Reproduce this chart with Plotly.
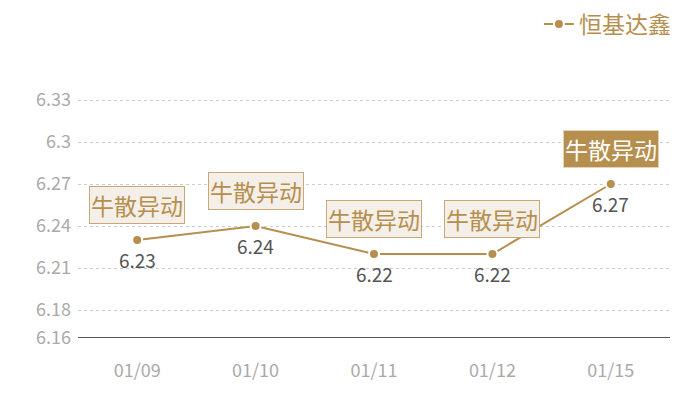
import plotly.graph_objects as go

# chart data
dates = ["01/09", "01/10", "01/11", "01/12", "01/15"]
prices = [6.23, 6.24, 6.22, 6.22, 6.27]
tick_vals = [6.16, 6.18, 6.21, 6.24, 6.27, 6.30, 6.33]
tick_text = ["6.16", "6.18", "6.21", "6.24", "6.27", "6.3", "6.33"]
series_name = "恒基达鑫"
event_label = "牛散异动"

gold = "#b68f4e"
font_cjk = "Noto Sans CJK SC"

fig = go.Figure()
fig.add_trace(
    go.Scatter(
        x=dates,
        y=prices,
        name=series_name,
        mode="lines+markers",
        line=dict(color=gold, width=2),
        marker=dict(size=10, color=gold, line=dict(color="white", width=2)),
        cliponaxis=False,
    )
)

for i, (d, p) in enumerate(zip(dates, prices)):
    last = i == len(dates) - 1
    # value label under the point
    fig.add_annotation(
        x=d,
        y=p,
        text=f"{p:.2f}",
        showarrow=False,
        yshift=-19,
        font=dict(size=19, color="#555555", family=font_cjk),
    )
    # event box above the point, last one highlighted
    fig.add_annotation(
        x=d,
        y=p,
        text=event_label,
        showarrow=False,
        yshift=35,
        font=dict(size=23, color="white" if last else gold, family=font_cjk),
        bgcolor=gold if last else "#f4efe8",
        bordercolor="#e3d3b8" if last else "#c9a874",
        borderwidth=1,
        borderpad=1,
    )

# page adds ~8px body margin, so margins are shifted by that amount
fig.update_layout(
    width=700,
    height=400,
    margin=dict(l=70, r=38, t=50, b=70),
    plot_bgcolor="white",
    paper_bgcolor="white",
    font=dict(family=font_cjk),
    showlegend=True,
    legend=dict(
        orientation="h",
        x=1.01,
        xanchor="right",
        y=0.96,
        yanchor="middle",
        yref="container",
        font=dict(size=23, color=gold),
        itemwidth=30,
    ),
    xaxis=dict(
        range=[-0.5, 4.5],
        showgrid=False,
        tickfont=dict(size=18, color="#aaaaaa"),
        ticks="",
        showline=False,
        ticklabelstandoff=20,
    ),
    yaxis=dict(
        range=[6.16, 6.36],
        tickvals=tick_vals,
        ticktext=tick_text,
        tickfont=dict(size=18, color="#aaaaaa"),
        gridcolor="#cccccc",
        griddash="dot",
        gridwidth=1,
        zeroline=False,
        showline=False,
        ticklabelstandoff=6,
    ),
)
fig.add_hline(y=6.16, line=dict(color="#222222", width=1.5))

fig.write_html("out.html")
